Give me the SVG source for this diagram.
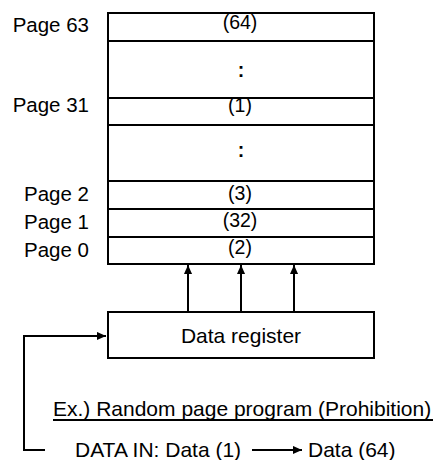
<svg xmlns="http://www.w3.org/2000/svg" width="438" height="460" viewBox="0 0 438 460">
<style>
text{font-family:"Liberation Sans",Arial,sans-serif;font-size:21px;fill:#000}
.v{font-size:19.5px;text-anchor:middle}
.b{font-weight:bold}
.c{text-anchor:middle}
.r{text-anchor:end;font-size:20.5px}
.ln{stroke:#000;stroke-width:2;fill:none}
</style>
<defs>
<marker id="ah" viewBox="0 0 10 10" refX="10" refY="5" markerWidth="9" markerHeight="9" markerUnits="userSpaceOnUse" orient="auto">
<path d="M0,0.5 L10,5 L0,9.5 Z" fill="#000"/>
</marker>
</defs>
<rect width="438" height="460" fill="#fff"/>
<g id="memory">
<rect class="ln" x="108" y="13" width="266" height="251"/>
<line class="ln" x1="108" y1="41" x2="374" y2="41"/>
<line class="ln" x1="108" y1="98" x2="374" y2="98"/>
<line class="ln" x1="108" y1="125" x2="374" y2="125"/>
<line class="ln" x1="108" y1="181" x2="374" y2="181"/>
<line class="ln" x1="108" y1="209" x2="374" y2="209"/>
<line class="ln" x1="108" y1="237" x2="374" y2="237"/>
<text class="v" x="240" y="29">(64)</text>
<text class="v b" x="241" y="77">:</text>
<text class="v" x="240" y="112">(1)</text>
<text class="v b" x="241" y="157">:</text>
<text class="v" x="240" y="200">(3)</text>
<text class="v" x="240" y="227">(32)</text>
<text class="v" x="240" y="254">(2)</text>
</g>
<g id="labels">
<text class="r" x="89" y="32">Page 63</text>
<text class="r" x="89" y="112">Page 31</text>
<text class="r" x="89" y="201">Page 2</text>
<text class="r" x="89" y="229">Page 1</text>
<text class="r" x="89" y="257">Page 0</text>
</g>
<g id="register">
<rect class="ln" x="108" y="312" width="266" height="46"/>
<text class="c" x="241" y="343">Data register</text>
</g>
<g id="note">
<text x="53" y="416">Ex.) Random page program (Prohibition)</text>
<line x1="53" y1="420" x2="433" y2="420" stroke="#000" stroke-width="2"/>
<text x="75" y="457">DATA IN: Data (1)</text>
<text x="308" y="457">Data (64)</text>
</g>
<g id="connectors">
<line class="ln" x1="188" y1="312" x2="188" y2="265" marker-end="url(#ah)"/>
<line class="ln" x1="241" y1="312" x2="241" y2="265" marker-end="url(#ah)"/>
<line class="ln" x1="294" y1="312" x2="294" y2="265" marker-end="url(#ah)"/>
<polyline class="ln" points="45,450 24,450 24,336 106,336" marker-end="url(#ah)"/>
<line class="ln" x1="252" y1="450" x2="302" y2="450" marker-end="url(#ah)"/>
</g>
</svg>
